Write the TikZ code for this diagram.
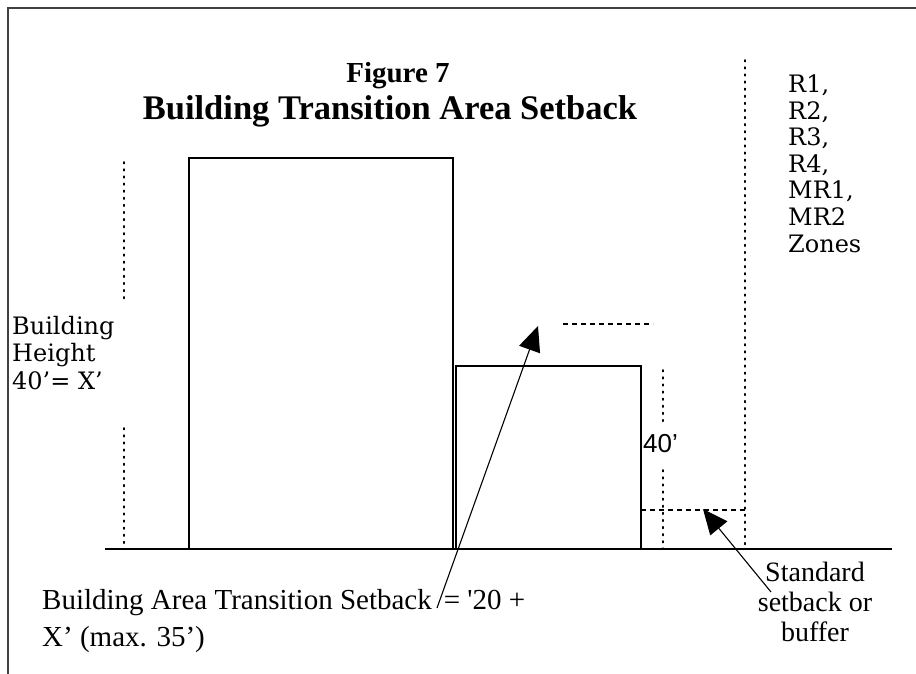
\documentclass[tikz,border=0pt]{standalone}
\usepackage{fontspec}
\setmainfont{Liberation Serif}
\newfontfamily\dvs{DejaVu Serif}
\newfontfamily\lsans{Liberation Sans}
\usetikzlibrary{arrows.meta}
\tikzset{
  bldg/.style={draw, line width=2pt},
  ground/.style={line width=2pt},
  dotln/.style={line width=1.6pt, dash pattern=on 1.6pt off 5.5pt, line cap=round},
  dashln/.style={line width=1.4pt, dash pattern=on 5pt off 4pt},
  ptr/.style={line width=1.1pt, -{Triangle[length=25pt,width=22pt]}},
  lbl/.style={inner sep=0pt, anchor=base west},
  zone/.style={lbl, font=\dvs\fontsize{24}{26}\selectfont},
  side/.style={lbl, font=\dvs\fontsize{24}{27}\selectfont},
}
\begin{document}
\begin{tikzpicture}[x=1pt,y=-1pt]
\useasboundingbox (0,0) rectangle (916,674);
% frame
\draw[line width=2pt, black!75] (8,674) -- (8,8) -- (916,8);
% title
\node[font=\bfseries\fontsize{29}{33}\selectfont, inner sep=0pt] (fig) at (398,76) {Figure 7};
\node[font=\bfseries\fontsize{34.5}{38}\selectfont, inner sep=0pt] (title) at (390,111) {Building Transition Area Setback};
% buildings
\draw[bldg] (189,158) rectangle (453,549);
\draw[bldg] (456,366) rectangle (641,549);
% ground
\draw[ground] (105,549) -- (892,549);
% dotted guides
\draw[dotln] (124,162) -- (124,300);
\draw[dotln] (124,428) -- (124,549);
\draw[dotln] (663,370) -- (663,422);
\draw[dotln] (663,470) -- (663,549);
\draw[dotln] (745,60) -- (745,549);
% dashed lines
\draw[dashln] (563,324) -- (653,324);
\draw[dashln] (641,510) -- (745,510);
% texts
\node[side] (bh1) at (12,334) {Building};
\node[side] (bh2) at (12,361) {Height};
\node[side] (bh3) at (12,389) {40’= X’};
\node[lbl, font=\lsans\fontsize{26}{28}\selectfont] (forty) at (643,452) {40’};
\node[zone] (z1) at (788,93) {R1,};
\node[zone] (z2) at (788,119.5) {R2,};
\node[zone] (z3) at (788,146) {R3,};
\node[zone] (z4) at (788,172.5) {R4,};
\node[zone] (z5) at (788,199) {MR1,};
\node[zone] (z6) at (788,225.5) {MR2};
\node[zone] (z7) at (788,252) {Zones};
\node[lbl, font=\fontsize{29}{32}\selectfont] (bt1) at (42,609) {Building Area Transition Setback\hspace{12pt}= \textquotesingle 20 +};
\node[lbl, font=\fontsize{29}{32}\selectfont] (bt2) at (42,646) {X’ (max. 35’)};
\node[align=center, font=\fontsize{28}{30}\selectfont, inner sep=0pt] (std) at (815,602) {Standard\\setback or\\buffer};
% arrows
\coordinate (a1s) at (437,608);
\coordinate (a1e) at (538,326);
\coordinate (a2s) at (771,592);
\coordinate (a2e) at (703,509);
\draw[ptr] (a1s) -- (a1e);
\draw[ptr] (a2s) -- (a2e);
\end{tikzpicture}
\end{document}
